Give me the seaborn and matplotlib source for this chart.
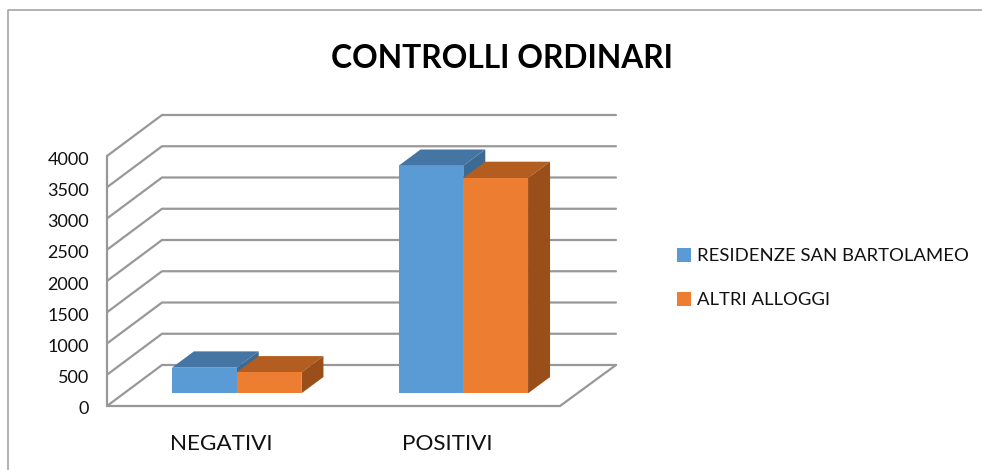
import pandas as pd
import matplotlib
matplotlib.use("Agg")
import matplotlib.pyplot as plt
from matplotlib.lines import Line2D
from matplotlib.patches import Polygon
from matplotlib.transforms import ScaledTranslation
import seaborn as sns

categories = ["NEGATIVI", "POSITIVI"]
series_names = ["RESIDENZE SAN BARTOLAMEO", "ALTRI ALLOGGI"]
residenze = [410, 3640]
altri = [335, 3445]
y_ticks = [0, 500, 1000, 1500, 2000, 2500, 3000, 3500, 4000]

W, H = 982, 470
PX_X = 226.6   # pixels per category
PX_Y = 0.0625  # pixels per unit

sns.set_style("white")
plt.rcParams["font.family"] = ["Lato", "DejaVu Sans"]

df = pd.DataFrame({
    "categoria": categories * 2,
    "serie": [series_names[0]] * 2 + [series_names[1]] * 2,
    "valore": residenze + altri,
})

fig = plt.figure(figsize=(W / 100, H / 100), dpi=100)
# axes box runs from the front-left floor corner to the back-right top corner
ax = fig.add_axes([107 / W, 1 - 406 / H, (616 - 107) / W, (406 - 115) / H])

sns.barplot(data=df, x="categoria", y="valore", hue="serie", order=categories,
            hue_order=series_names, palette=["#5B9BD5", "#ED7D31"],
            width=0.5715, gap=0, linewidth=0, saturation=1, ax=ax, zorder=5)

# bars stand inside the floor, so the value 0 of the axis sits lower than their base
axis_y0 = -(406 - 393.3) / PX_Y
wall_dx = 55 / PX_X
wall_dy = 41 / PX_Y
bar_dx = 22 / PX_X
bar_dy = 16.3 / PX_Y

x0 = (107 - 236.7) / PX_X
x1 = (616 - 236.7) / PX_X
ax.set_xlim(x0, x1)
ax.set_ylim(axis_y0, axis_y0 + (406 - 115) / PX_Y)

# walls and floor
grid_col = "#989898"
for v in y_ticks:
    y = axis_y0 + v
    ax.plot([x0, x0 + wall_dx, x1], [y, y + wall_dy, y + wall_dy], color=grid_col,
            lw=1.6, zorder=1, clip_on=False, solid_joinstyle="miter")
floor_x = (560 - 236.7) / PX_X
ax.plot([x0, x0], [axis_y0, axis_y0 + y_ticks[-1]], color=grid_col, lw=1.6, zorder=2, clip_on=False)
ax.plot([x0, floor_x, x1], [axis_y0, axis_y0, axis_y0 + wall_dy], color=grid_col,
        lw=1.6, zorder=2, clip_on=False)

# depth faces of the bars, taken from the bars seaborn drew
top_cols = ["#4575A3", "#B35E20"]
side_cols = ["#3D6A92", "#9A4F1B"]
for cont, top_c, side_c in zip(ax.containers, top_cols, side_cols):
    for p in cont:
        left, right, h = p.get_x(), p.get_x() + p.get_width(), p.get_height()
        ax.add_patch(Polygon([(left, h), (right, h), (right + bar_dx, h + bar_dy), (left + bar_dx, h + bar_dy)],
                             color=top_c, lw=0, zorder=3))
        ax.add_patch(Polygon([(right, 0), (right, h), (right + bar_dx, h + bar_dy), (right + bar_dx, bar_dy)],
                             color=side_c, lw=0, zorder=3))

sns.despine(ax=ax, left=True, bottom=True)
ax.set_xlabel("")
ax.set_ylabel("")
ax.set_yticks([axis_y0 + v for v in y_ticks], labels=[str(v) for v in y_ticks])
ax.set_xticks([-15.5 / PX_X, 1 - 16.5 / PX_X], labels=categories)
ax.tick_params(axis="y", length=0, pad=13, labelsize=13, labelcolor="#111111")
ax.tick_params(axis="x", length=0, pad=20, labelsize=16.2, labelcolor="#111111")

# tick labels sit a touch below their lines in the reference
nudge = ScaledTranslation(0, -2 / 100, fig.dpi_scale_trans)
for lab in ax.get_yticklabels():
    lab.set_transform(lab.get_transform() + nudge)

handles, labels = ax.get_legend_handles_labels()
ax.legend(handles, labels, loc="center left", bbox_to_anchor=(660 / W, 1 - 278 / H),
          bbox_transform=fig.transFigure, frameon=False, fontsize=13.3, labelcolor="#111111",
          handlelength=0.78, handleheight=0.78, handletextpad=0.3, labelspacing=1.5)

fig.text(501.5 / W, 1 - 58 / H, "CONTROLLI ORDINARI", ha="center", va="center",
         fontsize=22.9, fontweight="bold", color="black")

# chart frame, cropped at the right and bottom of the picture
border = "#a6a6a6"
fig.add_artist(Line2D([7.5 / W, 7.5 / W, 1], [0, 1 - 9.5 / H, 1 - 9.5 / H], color=border, lw=1.2))

fig.savefig("out.png", dpi=100)
